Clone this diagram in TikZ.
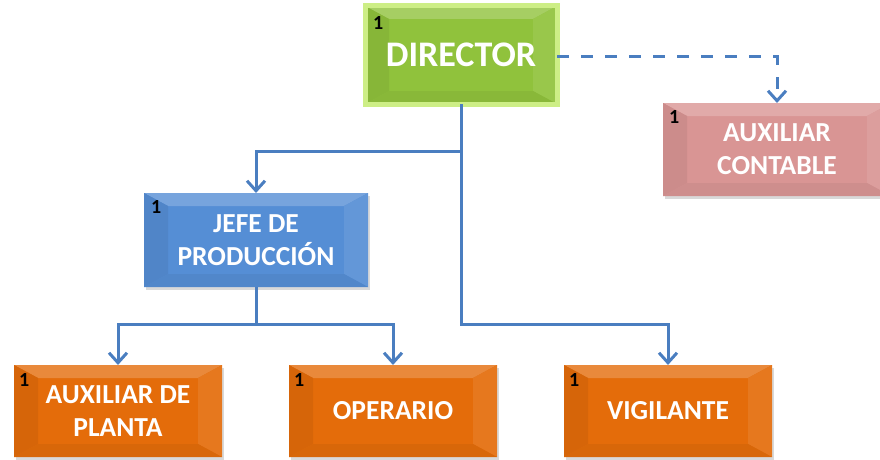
\documentclass[tikz,border=0pt]{standalone}
\usepackage{fontspec}
\newfontfamily\carl{Carlito}
\usetikzlibrary{arrows.meta,shadows}
\definecolor{linec}{HTML}{4A7EC0}
\definecolor{orbase}{HTML}{E46C0A}
\definecolor{blbase}{HTML}{558ED5}
\definecolor{pkbase}{HTML}{D99594}
\definecolor{grbase}{HTML}{90C23C}
\definecolor{grglow}{HTML}{CDEE86}
\tikzset{
  bvcol/.code={\colorlet{bvbase}{#1}},
  bevelbox/.style={rectangle, inner sep=0pt, outer sep=0pt, fill=bvbase,
    text=white, font=\carl\bfseries\fontsize{27.5}{33}\selectfont, align=center,
    drop shadow={opacity=0.3, shadow xshift=2pt, shadow yshift=-3pt},
    path picture={
      \path (path picture bounding box.north west) coordinate (pnw)
            (path picture bounding box.north east) coordinate (pne)
            (path picture bounding box.south west) coordinate (psw)
            (path picture bounding box.south east) coordinate (pse);
      \fill[bvbase!80!white] (pnw) -- (pne) -- ([shift={(-24pt,-13pt)}]pne) -- ([shift={(24pt,-13pt)}]pnw) -- cycle;
      \fill[bvbase!94!black] (pnw) -- ([shift={(24pt,-13pt)}]pnw) -- ([shift={(24pt,13pt)}]psw) -- (psw) -- cycle;
      \fill[bvbase!92!white] (pne) -- ([shift={(-24pt,-13pt)}]pne) -- ([shift={(-24pt,13pt)}]pse) -- (pse) -- cycle;
      \fill[bvbase!95!black] (psw) -- ([shift={(24pt,13pt)}]psw) -- ([shift={(-24pt,13pt)}]pse) -- (pse) -- cycle;
    }},
  numlbl/.style={anchor=north west, inner sep=0pt, font=\carl\bfseries\fontsize{20}{20}\selectfont, text=black},
  conn/.style={draw=linec, line width=3pt, -{Straight Barb[length=10pt,width=18pt,line width=3pt]}},
  dconn/.style={conn, dash pattern=on 12pt off 12pt},
}
\begin{document}
\begin{tikzpicture}[x=1pt,y=-1pt]
\useasboundingbox (0,0) rectangle (880,460);
% DIRECTOR
\node[bevelbox, bvcol=grbase, draw=grglow, line width=5pt, minimum width=192pt, minimum height=98pt,
      font=\carl\bfseries\fontsize{36}{40}\selectfont] (dir) at (461,55) {DIRECTOR};
\node[numlbl] (dirn) at ([shift={(8pt,-10pt)}]dir.north west) {1};
% AUXILIAR CONTABLE
\node[bevelbox, bvcol=pkbase, minimum width=228pt, minimum height=93pt] (cont) at (777,149.5) {AUXILIAR\\CONTABLE};
\node[numlbl] (contn) at ([shift={(6pt,-7pt)}]cont.north west) {1};
% JEFE DE PRODUCCION
\node[bevelbox, bvcol=blbase, minimum width=224pt, minimum height=94pt] (jefe) at (256,240) {JEFE DE\\PRODUCCIÓN};
\node[numlbl] (jefen) at ([shift={(7pt,-7pt)}]jefe.north west) {1};
% bottom row
\node[bevelbox, bvcol=orbase, minimum width=208pt, minimum height=92pt] (aux) at (118,411) {AUXILIAR DE\\PLANTA};
\node[numlbl] (auxn) at ([shift={(5pt,-8pt)}]aux.north west) {1};
\node[bevelbox, bvcol=orbase, minimum width=208pt, minimum height=92pt] (oper) at (393,411) {OPERARIO};
\node[numlbl] (opern) at ([shift={(5pt,-8pt)}]oper.north west) {1};
\node[bevelbox, bvcol=orbase, minimum width=208pt, minimum height=92pt] (vig) at (668,411) {VIGILANTE};
\node[numlbl] (vign) at ([shift={(5pt,-8pt)}]vig.north west) {1};
% connectors
\coordinate (cj) at (256,151);
\coordinate (cv) at (668,324);
\coordinate (ca) at (118,324);
\coordinate (co) at (393,324);
\coordinate (cc) at (777,57);
\draw[conn] (dir.south) |- (cj) -- (jefe.north);
\draw[conn] (dir.south) |- (cv) -- (vig.north);
\draw[conn] (jefe.south) |- (ca) -- (aux.north);
\draw[conn] (jefe.south) |- (co) -- (oper.north);
\draw[dconn] (dir.east |- cc) -- (cc) -- (cc |- cont.north);
\end{tikzpicture}
\end{document}
